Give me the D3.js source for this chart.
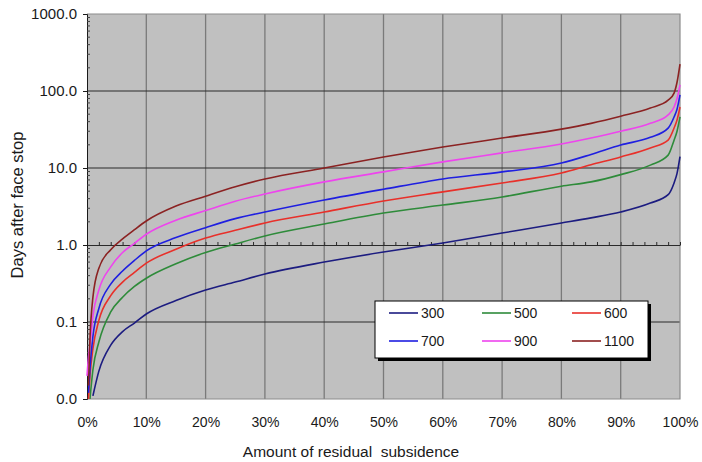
<!DOCTYPE html>
<html>
<head>
<meta charset="utf-8">
<script src="https://cdn.jsdelivr.net/npm/d3@7"></script>
<style>
  html, body { margin: 0; padding: 0; background: #fff; }
  svg { display: block; font-family: "Liberation Sans", Arial, sans-serif; }
</style>
</head>
<body>
<svg id="chart" width="702" height="462"></svg>
<script>
// Residual subsidence (%) sampled along the x axis
const pct = [0, 0.25, 0.5, 1, 2, 4, 6, 8, 10, 15, 20, 25, 30, 40, 50, 60, 70, 80, 85, 90, 95, 98, 99, 99.5, 100];

// Days after face stop for each series (null = curve not yet started)
const s300  = [null, null, null, 0.011, 0.023, 0.05, 0.075, 0.097, 0.127, 0.19, 0.26, 0.33, 0.42, 0.60, 0.81, 1.06, 1.43, 1.93, 2.25, 2.68, 3.5, 4.5, 6.4, 8.5, 14];
const s500  = [null, null, 0.01, 0.024, 0.055, 0.135, 0.21, 0.29, 0.37, 0.57, 0.8, 1.03, 1.31, 1.87, 2.6, 3.3, 4.2, 5.8, 6.6, 8.2, 10.9, 14.7, 23, 30, 46];
const s600  = [null, 0.01, 0.02, 0.045, 0.105, 0.22, 0.33, 0.44, 0.58, 0.88, 1.23, 1.55, 1.93, 2.68, 3.73, 4.9, 6.4, 8.6, 11, 13.9, 18.2, 23, 33, 42, 62];
const s700  = [null, 0.012, 0.025, 0.065, 0.15, 0.31, 0.46, 0.63, 0.84, 1.25, 1.68, 2.2, 2.68, 3.84, 5.3, 7.2, 8.9, 11.6, 15, 19.9, 25, 33, 46, 58, 89];
const s900  = [0.02, 0.035, 0.05, 0.12, 0.26, 0.52, 0.8, 1.05, 1.38, 2.1, 2.8, 3.7, 4.6, 6.6, 8.9, 12, 15.7, 20.5, 24.5, 30, 38, 49, 62, 80, 120];
const s1100 = [null, 0.015, 0.06, 0.21, 0.5, 0.87, 1.2, 1.58, 2.05, 3.2, 4.3, 5.7, 7.2, 10, 13.9, 18.7, 24.5, 32, 38, 47, 60, 76, 94, 130, 224];

const seriesNames  = ["300", "500", "600", "700", "900", "1100"];
const seriesValues = [s300, s500, s600, s700, s900, s1100];
const seriesColors = ["#1c1c80", "#2e8b3a", "#e8302a", "#1f1fe0", "#ee44ee", "#8b2222"];

const yTicks = [0.01, 0.1, 1, 10, 100, 1000];
const xTicks = [0, 10, 20, 30, 40, 50, 60, 70, 80, 90, 100];

const svg = d3.select("#chart");
const plotL = 87, plotR = 680, plotT = 14, plotB = 399;

const x = d3.scaleLinear().domain([0, 100]).range([plotL, plotR]);
const y = d3.scaleLog().domain([0.01, 1000]).range([plotB, plotT]);

// plot area
svg.append("rect")
  .attr("x", plotL).attr("y", plotT)
  .attr("width", plotR - plotL).attr("height", plotB - plotT)
  .attr("fill", "#c0c0c0");

// vertical grid
svg.append("g").selectAll("line")
  .data(xTicks.filter(d => d > 0 && d < 100))
  .join("line")
  .attr("x1", d => x(d)).attr("x2", d => x(d))
  .attr("y1", plotT).attr("y2", plotB)
  .attr("stroke", "#7a7a7a").attr("stroke-width", 1.3);

// horizontal decade lines
svg.append("g").selectAll("line")
  .data([0.1, 10, 100])
  .join("line")
  .attr("x1", plotL).attr("x2", plotR)
  .attr("y1", d => y(d)).attr("y2", d => y(d))
  .attr("stroke", "#2a2a2a").attr("stroke-width", 1);

// frame (top, right, bottom)
svg.append("path")
  .attr("d", `M${plotL},${plotT}H${plotR}V${plotB}H${plotL}`)
  .attr("fill", "none").attr("stroke", "#8c8c8c").attr("stroke-width", 1.2);

// x axis running along 1.0 with minor ticks every 2%
const xAxisLine = svg.append("g")
  .attr("transform", `translate(0,${y(1)})`)
  .call(d3.axisTop(x).tickValues(d3.range(0, 101, 2)).tickSize(3).tickSizeOuter(0).tickFormat(""));
xAxisLine.select(".domain").attr("stroke", "#2a2a2a");
xAxisLine.selectAll(".tick line").attr("stroke", "#2a2a2a");

// x tick labels under the plot
const xLab = svg.append("g")
  .attr("transform", `translate(0,${plotB})`)
  .call(d3.axisBottom(x).tickValues(xTicks).tickSize(0).tickPadding(18).tickFormat(d => d + "%"));
xLab.select(".domain").remove();
xLab.selectAll("text").attr("font-size", 14).attr("fill", "#1a1a1a")
  .attr("font-family", "Liberation Sans, Arial, sans-serif");

// y axis
const yAxis = svg.append("g")
  .attr("transform", `translate(${plotL},0)`)
  .call(d3.axisLeft(y).tickValues(yTicks).tickSize(4).tickPadding(6).tickFormat(d3.format(".1f")));
yAxis.select(".domain").attr("stroke", "#1a1a1a");
yAxis.selectAll(".tick line").attr("stroke", "#1a1a1a");
yAxis.selectAll("text").attr("font-size", 15).attr("fill", "#1a1a1a")
  .attr("font-family", "Liberation Sans, Arial, sans-serif");

// y minor ticks (2..9 per decade), inside the plot
const minor = [];
for (let e = -2; e < 3; e++) for (let k = 2; k <= 9; k++) minor.push(k * Math.pow(10, e));
svg.append("g").selectAll("line")
  .data(minor)
  .join("line")
  .attr("x1", plotL).attr("x2", plotL + 3)
  .attr("y1", d => y(d)).attr("y2", d => y(d))
  .attr("stroke", "#444").attr("stroke-width", 1);

// series lines
const line = d3.line()
  .defined(d => d[1] != null)
  .x(d => x(d[0]))
  .y(d => y(d[1]))
  .curve(d3.curveMonotoneX);

svg.append("g").selectAll("path")
  .data(seriesValues.map((vals, i) => ({ name: seriesNames[i], color: seriesColors[i], pts: pct.map((p, j) => [p, vals[j]]) })))
  .join("path")
  .attr("d", d => line(d.pts))
  .attr("fill", "none")
  .attr("stroke", d => d.color)
  .attr("stroke-width", 1.6)
  .attr("stroke-linejoin", "round");

// axis titles
svg.append("text")
  .attr("x", 351).attr("y", 457)
  .attr("text-anchor", "middle")
  .attr("font-size", 15.5).attr("fill", "#1a1a1a")
  .style("white-space", "pre")
  .text("Amount of residual  subsidence");

svg.append("text")
  .attr("transform", "translate(23,205) rotate(-90)")
  .attr("text-anchor", "middle")
  .attr("font-size", 16.5).attr("fill", "#1a1a1a")
  .text("Days after face stop");

// legend
const lg = { x: 375, y: 301, w: 273, h: 57 };
svg.append("rect")
  .attr("x", lg.x + 3).attr("y", lg.y + 3).attr("width", lg.w).attr("height", lg.h)
  .attr("fill", "#000");
svg.append("rect")
  .attr("x", lg.x).attr("y", lg.y).attr("width", lg.w).attr("height", lg.h)
  .attr("fill", "#fff").attr("stroke", "#000").attr("stroke-width", 1);

const colX = [389, 482, 572];
const rowY = [313, 341];
const items = svg.append("g").selectAll("g")
  .data(seriesNames.map((n, i) => ({ name: n, color: seriesColors[i], col: i % 3, row: Math.floor(i / 3) })))
  .join("g")
  .attr("transform", d => `translate(${colX[d.col]},${rowY[d.row]})`);
items.append("line")
  .attr("x1", 0).attr("x2", 29).attr("y1", 0).attr("y2", 0)
  .attr("stroke", d => d.color).attr("stroke-width", 1.6);
items.append("text")
  .attr("x", 32).attr("y", 5)
  .attr("font-size", 14).attr("fill", "#1a1a1a")
  .text(d => d.name);
</script>
</body>
</html>
